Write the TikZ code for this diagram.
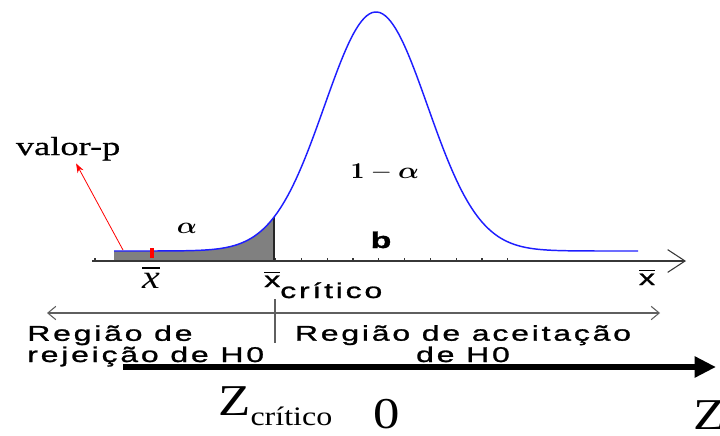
\documentclass[tikz,border=0pt]{standalone}
\usepackage{amsmath}
\usepackage{fontspec}
\usepackage{graphicx}
\usetikzlibrary{arrows.meta}
\newfontfamily\sanswide[FakeStretch=1.5,LetterSpace=13,FakeBold=1.2]{Liberation Sans}
\newfontfamily\serifwide[FakeStretch=1.4,FakeBold=0.6]{Liberation Serif}
\newfontfamily\serifz[FakeStretch=1.2]{Liberation Serif}
\definecolor{curveblue}{RGB}{30,30,255}
\definecolor{tailgray}{RGB}{128,128,128}
\definecolor{axisgray}{RGB}{55,55,55}
\definecolor{rulegray}{RGB}{95,95,95}
\tikzset{
  density/.style={curveblue,line width=1.1pt},
  axisline/.style={axisgray,line width=0.8pt,-{Straight Barb[length=13pt,width=17pt]}},
  tickmark/.style={axisgray,line width=0.8pt},
  regline/.style={rulegray,line width=0.8pt,
    {Straight Barb[length=6pt,width=10pt]}-{Straight Barb[length=6pt,width=10pt]}},
  zline/.style={black,line width=4.5pt,-{Triangle[length=16pt,width=15pt]}},
  sanslbl/.style={font=\sanswide\fontsize{16pt}{14.5pt}\selectfont,inner sep=0pt},
  greeklbl/.style={font=\fontsize{17pt}{17pt}\selectfont,inner sep=0pt},
  zlbl/.style={font=\serifz\fontsize{33pt}{33pt}\selectfont,inner sep=0pt},
}
\begin{document}
\begin{tikzpicture}[x=0.75pt,y=-0.75pt]
  \useasboundingbox (0,0) rectangle (720,435);
  % x-bar axis with ticks
  \coordinate (ax0) at (92,261);
  \coordinate (ax1) at (686,261);
  \foreach \k in {0,...,16}
    \draw[tickmark] ({95+25.8*\k},261) -- ++(0,-3);
  % rejection tail
  \fill[tailgray] (114,261) -- (114,251)
    -- plot[domain=114:274,samples=60] (\x,{251-239*exp(-0.5*((\x-376)/51.6)^2)})
    -- (274,261) -- cycle;
  \draw[black!85,line width=0.8pt] (274,261) -- (274,217);
  \draw[axisline] (ax0) -- (ax1);
  % sampling distribution
  \draw[density] plot[domain=114:638,samples=200] (\x,{251-239*exp(-0.5*((\x-376)/51.6)^2)});
  % observed mean and p-value
  \draw[red,line width=2.6pt] (152,248) -- (152,258);
  \node[font=\serifwide\fontsize{19.5pt}{19.5pt}\selectfont,inner sep=2pt,anchor=base west] (valor) at (13,155) {valor-p};
  \coordinate (pv) at (123,250);
  \draw[red,line width=0.6pt,-{Stealth[length=7pt,width=5pt]}] (pv) -- (valor);
  \node[greeklbl] (alf) at (187,228) {\scalebox{1.15}[1]{$\boldsymbol{\alpha}$}};
  \node[greeklbl] (conf) at (385,172) {\scalebox{1.2}[1]{$\mathbf{1}-\boldsymbol{\alpha}$}};
  \node[sanslbl,font=\sanswide\bfseries\fontsize{17pt}{17pt}\selectfont,anchor=base] (bnode) at (381,248) {b};
  % axis labels
  \node[font=\serifz\itshape\fontsize{25pt}{25pt}\selectfont,inner sep=0pt,anchor=base] (xobs) at (151,288) {$\overline{\mbox{x}}$};
  \node[sanslbl,anchor=base west] (xcrit) at (264,287) {$\overline{\mbox{x}}$\raisebox{-8.25pt}{crítico}};
  \node[sanslbl,anchor=base] (xbar) at (647,285) {$\overline{\mbox{x}}$};
  % regions
  \coordinate (r0) at (47,313);
  \coordinate (r1) at (660,313);
  \coordinate (sep0) at (275,299);
  \coordinate (sep1) at (275,343);
  \draw[regline] (r0) -- (r1);
  \draw[rulegray,line width=0.8pt] (sep0) -- (sep1);
  \node[sanslbl,anchor=base west,align=left] (rej) at (27,362) {Região de\\rejeição de H0};
  \node[sanslbl,anchor=base,align=center] (acc) at (463,362) {Região de aceitação\\de H0};
  % Z scale
  \coordinate (z0) at (123,367);
  \coordinate (z1) at (716,367);
  \draw[zline] (z0) -- (z1);
  \node[zlbl,anchor=base west] (zcrit) at (218,415) {Z\raisebox{-7.5pt}{\fontsize{20pt}{20pt}\selectfont crítico}};
  \node[zlbl,anchor=base west] (zero) at (373,428) {0};
  \node[zlbl,anchor=base west] (zend) at (693,429) {Z};
\end{tikzpicture}
\end{document}
